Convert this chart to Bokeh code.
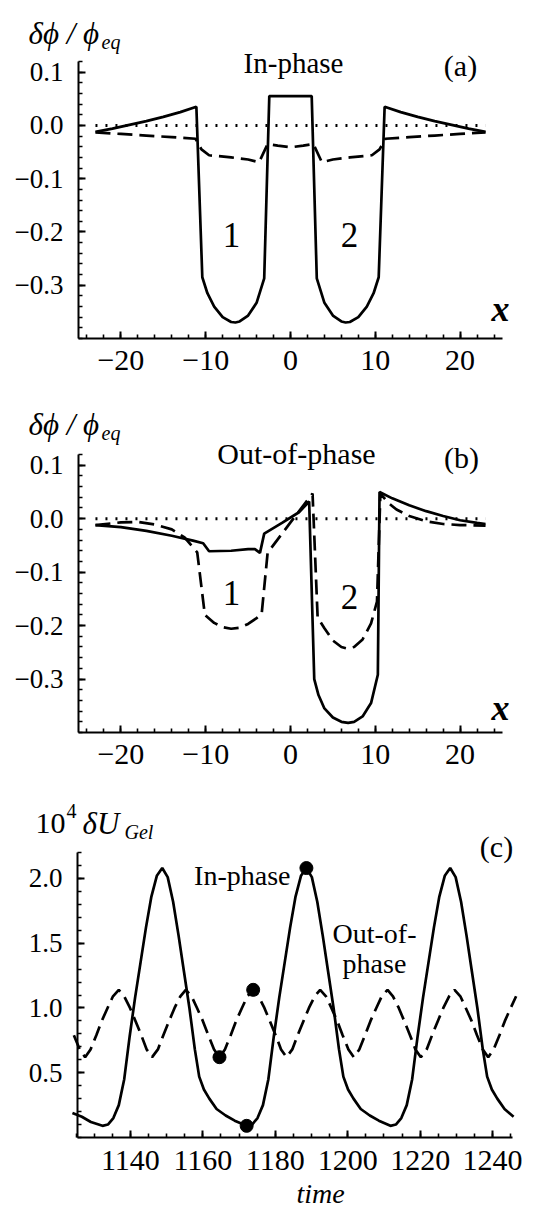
from bokeh.plotting import figure
from bokeh.layouts import column
from bokeh.models import FixedTicker, CustomJSTickFormatter, Label, Range1d
from bokeh.embed import file_html
from bokeh.resources import INLINE

FONT = "Liberation Serif"

# ---------------- Panel (a): In-phase ----------------
a_solid_x = [-23, -21, -19, -17, -15, -13, -11.1, -10.4, -9.8, -9.0, -8.0, -7.0, -6.5, -6.0, -5.0,
             -4.0, -3.1, -2.5, 2.5, 3.1, 4.0, 5.0, 6.0, 6.5, 7.0, 8.0, 9.0, 9.8, 10.4, 11.1,
             13, 15, 17, 19, 21, 23]
a_solid_y = [-0.012, -0.006, 0.001, 0.008, 0.016, 0.025, 0.035, -0.285, -0.315, -0.340, -0.360,
             -0.369, -0.370, -0.368, -0.357, -0.333, -0.287, 0.055, 0.055, -0.287, -0.333, -0.357,
             -0.368, -0.370, -0.369, -0.360, -0.340, -0.315, -0.285, 0.035, 0.025, 0.016, 0.008,
             0.001, -0.006, -0.012]
a_dash_x = [-23, -20, -17, -14, -11.2, -10.5, -9.6, -7, -5, -3.7, -2.7, -1.5, 0, 1.5, 2.7, 3.7,
            5, 7, 9.6, 10.5, 11.2, 14, 17, 20, 23]
a_dash_y = [-0.013, -0.016, -0.019, -0.022, -0.025, -0.045, -0.056, -0.060, -0.064, -0.069,
            -0.035, -0.038, -0.041, -0.038, -0.035, -0.069, -0.064, -0.060, -0.056, -0.045,
            -0.025, -0.022, -0.019, -0.016, -0.013]
zero_x = [-23, 23]
zero_y = [0, 0]

# ---------------- Panel (b): Out-of-phase ----------------
b_solid_x = [-23, -20, -17, -14, -11.5, -10.3, -9.6, -7, -5, -4.2, -3.6, -3.1, -1, 1, 2.2, 2.8,
             3.3, 4, 5, 6, 6.8, 7.5, 8.5, 9.5, 10.3, 10.5, 12, 14, 16, 18, 20, 22, 23]
b_solid_y = [-0.012, -0.016, -0.023, -0.032, -0.041, -0.046, -0.061, -0.060, -0.057, -0.057,
             -0.064, -0.028, -0.008, 0.012, 0.032, -0.300, -0.330, -0.355, -0.372, -0.380,
             -0.382, -0.380, -0.370, -0.345, -0.292, 0.050, 0.038, 0.025, 0.014, 0.005,
             -0.003, -0.008, -0.010]
b_dash_x = [-23, -20, -18, -16, -14, -12.5, -11, -10.1, -9, -8, -7, -6, -5, -4, -3.4, -2.7,
            0, 2.6, 3.2, 4, 5, 6, 6.7, 7.5, 8.5, 9.5, 10.2, 10.6, 11.5, 12.5, 14, 16, 18,
            20, 23]
b_dash_y = [-0.012, -0.007, -0.006, -0.011, -0.020, -0.035, -0.063, -0.180, -0.195, -0.203,
            -0.206, -0.204, -0.197, -0.186, -0.178, -0.064, -0.007, 0.047, -0.185, -0.205,
            -0.228, -0.240, -0.243, -0.240, -0.226, -0.196, -0.155, 0.047, 0.030, 0.017,
            0.005, -0.005, -0.010, -0.012, -0.013]

# ---------------- Panel (c): 10^4 dU_Gel vs time ----------------
c_in_t = [1124.0, 1126.6, 1129.1, 1132.3, 1133.8, 1135.3, 1136.8, 1138.3, 1139.8, 1141.3, 1142.8,
          1144.3, 1145.8, 1147.3, 1148.8, 1150.3, 1151.8, 1153.3, 1154.8, 1156.3, 1157.8, 1159.0,
          1160.3, 1161.8, 1163.8, 1166.3, 1168.8, 1172.1, 1173.6, 1175.1, 1176.6, 1178.1, 1179.6,
          1181.1, 1182.6, 1184.1, 1185.6, 1187.1, 1188.6, 1190.1, 1191.6, 1193.1, 1194.6, 1196.1,
          1197.6, 1198.8, 1200.1, 1201.6, 1203.6, 1206.1, 1208.6, 1211.8, 1213.3, 1214.8, 1216.3,
          1217.8, 1219.3, 1220.8, 1222.3, 1223.8, 1225.3, 1226.8, 1228.3, 1229.8, 1231.3, 1232.8,
          1234.3, 1235.8, 1237.3, 1238.5, 1239.8, 1241.3, 1243.3, 1245.8]
c_in_v = [0.19, 0.16, 0.12, 0.09, 0.10, 0.15, 0.25, 0.45, 0.78, 1.08, 1.35,
          1.62, 1.86, 2.02, 2.08, 2.01, 1.82, 1.56, 1.28, 1.00, 0.68, 0.47,
          0.37, 0.30, 0.22, 0.17, 0.13, 0.09, 0.10, 0.15, 0.25, 0.45, 0.78,
          1.08, 1.35, 1.62, 1.86, 2.02, 2.08, 2.01, 1.82, 1.56, 1.28, 1.00,
          0.68, 0.47, 0.37, 0.30, 0.22, 0.17, 0.13, 0.09, 0.10, 0.15, 0.25,
          0.45, 0.78, 1.08, 1.35, 1.62, 1.86, 2.02, 2.08, 2.01, 1.82, 1.56,
          1.28, 1.00, 0.68, 0.47, 0.37, 0.30, 0.22, 0.16]
c_out_t = [1124.4, 1126.0, 1127.5, 1129.0, 1130.6, 1132.1, 1133.7, 1135.2, 1136.8, 1138.3, 1139.9,
           1141.4, 1143.0, 1144.5, 1146.0, 1147.6, 1149.1, 1150.7, 1152.2, 1153.8, 1155.3, 1156.9,
           1158.4, 1160.0, 1161.5, 1163.1, 1164.6, 1166.1, 1167.7, 1169.2, 1170.8, 1172.3, 1173.9,
           1175.4, 1177.0, 1178.5, 1180.1, 1181.6, 1183.1, 1184.7, 1186.2, 1187.8, 1189.3, 1190.9,
           1192.4, 1194.0, 1195.5, 1197.1, 1198.6, 1200.2, 1201.7, 1203.2, 1204.8, 1206.3, 1207.9,
           1209.4, 1211.0, 1212.5, 1214.1, 1215.6, 1217.2, 1218.7, 1220.2, 1221.8, 1223.3, 1224.9,
           1226.4, 1228.0, 1229.5, 1231.1, 1232.6, 1234.2, 1235.7, 1237.3, 1238.8, 1240.3, 1241.9,
           1243.4, 1245.0, 1246.5]
c_out_v = [0.79, 0.68, 0.62, 0.68, 0.79, 0.90, 1.00, 1.09, 1.14, 1.09, 1.00,
           0.90, 0.79, 0.68, 0.62, 0.68, 0.79, 0.90, 1.00, 1.09, 1.14, 1.09,
           1.00, 0.90, 0.79, 0.68, 0.62, 0.68, 0.79, 0.90, 1.00, 1.09, 1.14,
           1.09, 1.00, 0.90, 0.79, 0.68, 0.62, 0.68, 0.79, 0.90, 1.00, 1.09,
           1.14, 1.09, 1.00, 0.90, 0.79, 0.68, 0.62, 0.68, 0.79, 0.90, 1.00,
           1.09, 1.14, 1.09, 1.00, 0.90, 0.79, 0.68, 0.62, 0.68, 0.79, 0.90,
           1.00, 1.09, 1.14, 1.09, 1.00, 0.90, 0.79, 0.68, 0.62, 0.68, 0.79,
           0.90, 1.00, 1.09]
dot_t = [1164.6, 1173.9, 1172.1, 1188.6]
dot_v = [0.62, 1.14, 0.09, 2.08]

x_major_ab = [-20, -10, 0, 10, 20]
y_major_ab = [-0.3, -0.2, -0.1, 0.0, 0.1]
t_major = [1140, 1160, 1180, 1200, 1220, 1240]
u_major = [0.5, 1.0, 1.5, 2.0]

LW = 2.7
DASH = "15 7"


class Panel:
    """Figure whose frame fills the canvas; axes pinned with fixed_location + bounds."""

    def __init__(self, width, height, left, right, top, bottom, xlo, xhi, ylo, yhi):
        self.sx = (right - left) / (xhi - xlo)
        self.sy = (bottom - top) / (yhi - ylo)
        self.left, self.top, self.xlo, self.yhi = left, top, xlo, yhi
        p = figure(width=width, height=height, output_backend="svg", toolbar_location=None,
                   x_range=Range1d(xlo - left / self.sx, xhi + (width - right) / self.sx),
                   y_range=Range1d(ylo - (height - bottom) / self.sy, yhi + top / self.sy),
                   min_border=0, min_border_left=0, min_border_right=0,
                   min_border_top=0, min_border_bottom=0)
        p.outline_line_color = None
        p.xgrid.visible = False
        p.ygrid.visible = False
        p.background_fill_color = "white"
        p.border_fill_color = "white"
        p.xaxis.fixed_location = ylo
        p.yaxis.fixed_location = xlo
        p.xaxis.bounds = (xlo, xhi)
        p.yaxis.bounds = (ylo, yhi)
        self.p = p

    def X(self, px):
        return self.xlo + (px - self.left) / self.sx

    def Y(self, py):
        return self.yhi - (py - self.top) / self.sy

    def style(self, xdig, ydig, xfs, yfs, xstand, ystand):
        p = self.p
        for ax in (p.xaxis[0], p.yaxis[0]):
            ax.axis_line_width = 2
            ax.axis_line_color = "black"
            ax.major_tick_in = 7
            ax.major_tick_out = 0
            ax.minor_tick_in = 4
            ax.minor_tick_out = 0
            ax.major_tick_line_width = 2
            ax.minor_tick_line_width = 1.6
            ax.major_tick_line_color = "black"
            ax.minor_tick_line_color = "black"
            ax.major_label_text_font = FONT
            ax.major_label_text_color = "black"
        p.xaxis[0].major_label_text_font_size = xfs
        p.yaxis[0].major_label_text_font_size = yfs
        p.xaxis[0].major_label_standoff = xstand
        p.yaxis[0].major_label_standoff = ystand
        p.xaxis[0].formatter = CustomJSTickFormatter(
            code="return tick.toFixed(%d).replace('-', '\u2212')" % xdig)
        p.yaxis[0].formatter = CustomJSTickFormatter(
            code="return tick.toFixed(%d).replace('-', '\u2212')" % ydig)

    def lab(self, px, py, text, size, align="left", baseline="alphabetic", style_="normal"):
        self.p.add_layout(Label(x=self.X(px), y=self.Y(py), text=text, text_font=FONT,
                                text_font_size=size, text_align=align,
                                text_baseline=baseline, text_font_style=style_,
                                text_color="black"))


def phi_panel(solid_x, solid_y, dash_x, dash_y, height, top, bottom):
    P = Panel(553, height, 78, 502, top, bottom, -25, 25, -0.4, 0.12)
    p = P.p
    p.line(zero_x, zero_y, line_color="black", line_width=3, line_dash="2 8")
    p.line(dash_x, dash_y, line_color="black", line_width=LW, line_dash=DASH)
    p.line(solid_x, solid_y, line_color="black", line_width=LW)
    p.xaxis.ticker = FixedTicker(ticks=x_major_ab, minor_ticks=[v for v in range(-24, 25, 2)])
    p.yaxis.ticker = FixedTicker(ticks=y_major_ab,
                                 minor_ticks=[round(-0.4 + 0.02 * i, 2) for i in range(27)])
    P.style(0, 1, "30px", "27px", 12, 15)
    return P


PHI = "\u03b4\u03d5 / \u03d5"

# panel (a): canvas y 0..395, frame top 61, bottom 338
A = phi_panel(a_solid_x, a_solid_y, a_dash_x, a_dash_y, 395, 61, 338)
A.lab(28, 33, PHI, "31px", style_="italic")
A.lab(101, 41, "eq", "20px", style_="italic")
A.lab(293, 62, "In-phase", "29px", align="center")
A.lab(460, 65, "(a)", "30px", align="center")
A.lab(231, 234, "1", "35px", align="center", baseline="middle")
A.lab(349, 234, "2", "35px", align="center", baseline="middle")
A.lab(500, 308, "x", "36px", align="center", baseline="middle", style_="bold italic")

# panel (b): canvas y 395..790 (local offsets), frame top 59, bottom 337
B = phi_panel(b_solid_x, b_solid_y, b_dash_x, b_dash_y, 395, 59, 337)
o = 395
B.lab(28, 424 - o, PHI, "31px", style_="italic")
B.lab(101, 432 - o, "eq", "20px", style_="italic")
B.lab(296, 453 - o, "Out-of-phase", "30px", align="center")
B.lab(461, 457 - o, "(b)", "30px", align="center")
B.lab(231, 592 - o, "1", "35px", align="center", baseline="middle")
B.lab(349, 596 - o, "2", "35px", align="center", baseline="middle")
B.lab(500, 707 - o, "x", "36px", align="center", baseline="middle", style_="bold italic")

# panel (c): canvas y 790..1218, frame top 62, bottom 347
C = Panel(553, 428, 77, 512, 62, 347, 1125.4, 1245.5, 0.0, 2.2)
pc = C.p
pc.line(c_out_t, c_out_v, line_color="black", line_width=LW, line_dash=DASH)
pc.line(c_in_t, c_in_v, line_color="black", line_width=LW)
pc.scatter(dot_t, dot_v, size=13, fill_color="black", line_color="black")
pc.xaxis.ticker = FixedTicker(ticks=t_major, minor_ticks=[1125 + 5 * i for i in range(25)])
pc.yaxis.ticker = FixedTicker(ticks=u_major, minor_ticks=[round(0.1 * i, 1) for i in range(23)])
C.style(0, 1, "30px", "27px", 13, 15)
o = 790
C.lab(35, 823 - o, "10", "30px")
C.lab(66, 810 - o, "4", "20px")
C.lab(82, 823 - o, "\u03b4U", "31px", style_="italic")
C.lab(124, 831 - o, "Gel", "20px", style_="italic")
C.lab(496, 846 - o, "(c)", "30px", align="center")
C.lab(290, 875 - o, "In-phase", "28px", align="right")
C.lab(374, 933 - o, "Out-of-", "28px", align="center")
C.lab(374, 963 - o, "phase", "28px", align="center")
C.lab(320, 1193 - o, "time", "28px", align="center", style_="italic", baseline="middle")

layout = column(A.p, B.p, pc, spacing=0)
open("out.html", "w").write(file_html(layout, INLINE))
